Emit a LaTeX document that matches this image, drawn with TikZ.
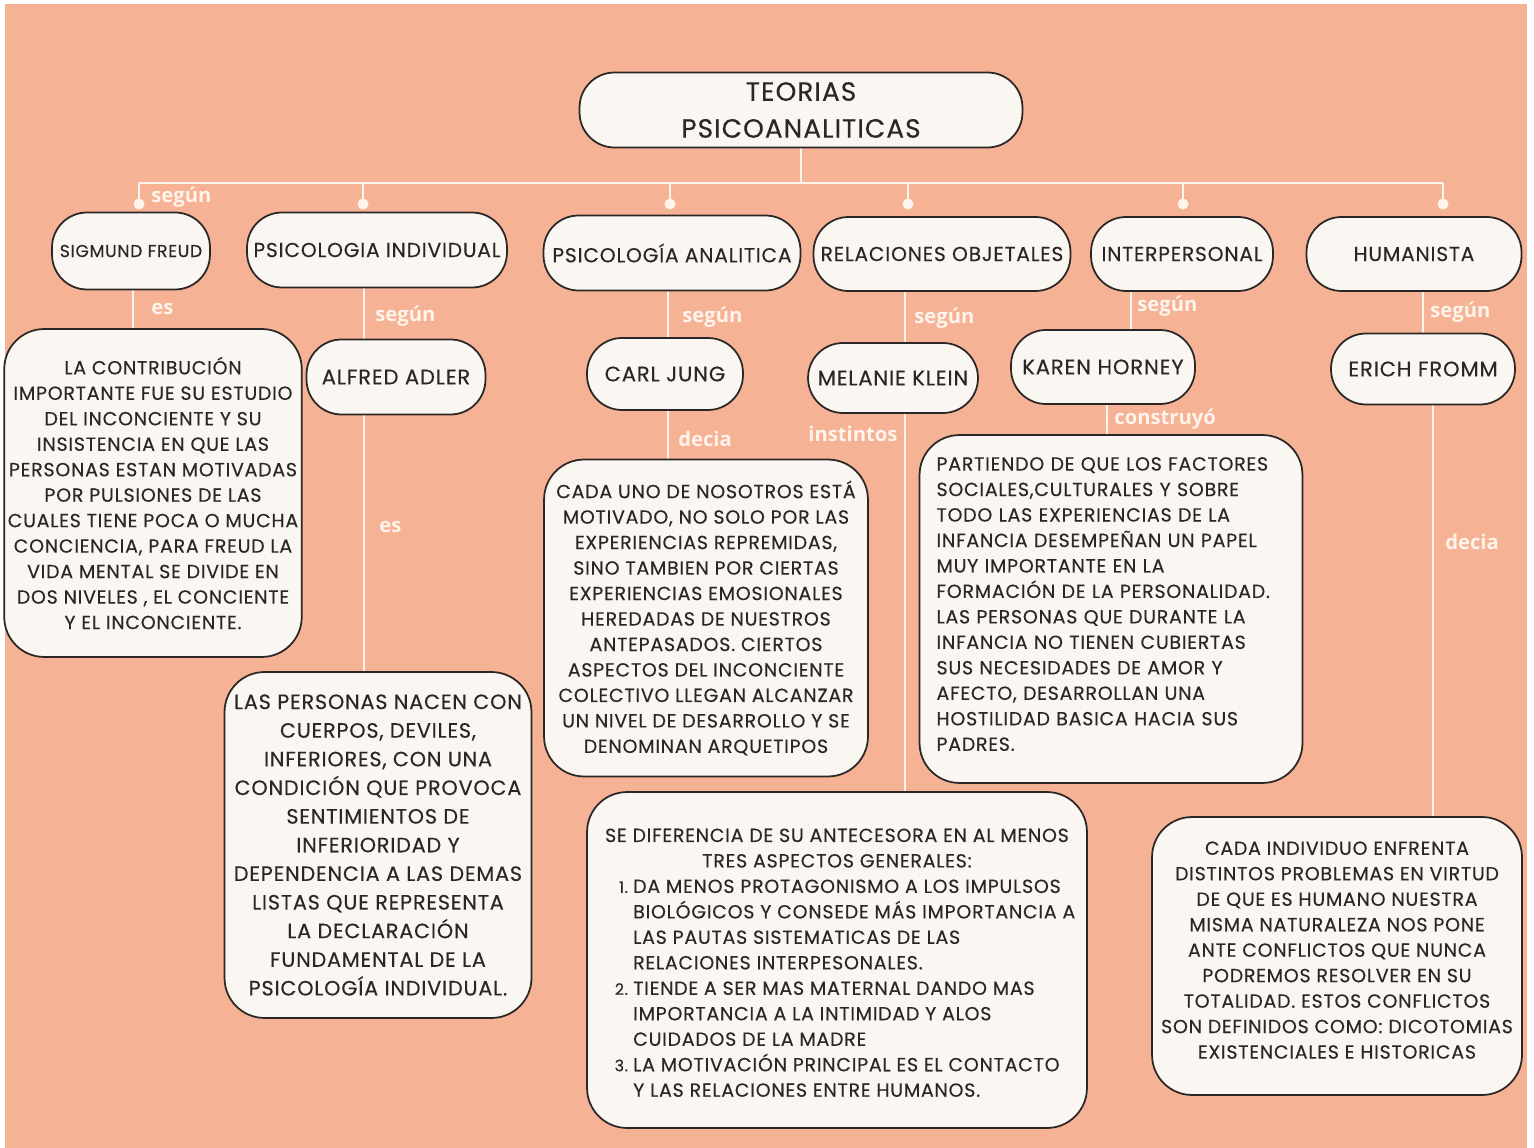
\documentclass[tikz,border=0pt]{standalone}
\usepackage{fontspec}
\setmainfont{Poppins}[LetterSpace=4, FakeBold=0.3]
\newfontfamily\lblfont{Open Sans}
\usetikzlibrary{backgrounds}
\definecolor{peach}{HTML}{F6B294}
\definecolor{boxfill}{HTML}{FAF6F1}
\definecolor{ink}{HTML}{2A2726}
\definecolor{linkcol}{HTML}{FFF4EC}

\begin{document}
\begin{tikzpicture}[x=0.02cm, y=-0.02cm,
    pill/.style={draw=ink, fill=boxfill, line width=1pt, rounded corners=0.7cm, text=ink, align=center, inner sep=2pt, font=\fontsize{12}{14}\selectfont},
    note/.style={draw=ink, fill=boxfill, line width=1pt, rounded corners=0.8cm, text=ink, align=center, inner sep=2pt, font=\fontsize{10.8}{14.5}\selectfont},
    link/.style={draw=linkcol, line width=1.6pt},
    lbl/.style={text=linkcol, anchor=west, inner sep=0pt, font=\lblfont\bfseries\fontsize{11.5}{12}\selectfont}]
\useasboundingbox (0,0) rectangle (1534,1148);

\node[pill, minimum width=8.86cm, minimum height=1.5cm, font=\fontsize{15}{21}\selectfont] (teorias) at (801,110) {TEORIAS\\PSICOANALITICAS};

\node[pill, minimum width=3.16cm, minimum height=1.54cm, font=\fontsize{9.8}{12}\selectfont] (freud) at (131,251) {SIGMUND FREUD};
\node[pill, minimum width=5.2cm, minimum height=1.5cm, font=\fontsize{11.5}{14}\selectfont] (indiv) at (377,250) {PSICOLOGIA INDIVIDUAL};
\node[pill, minimum width=5.14cm, minimum height=1.5cm, font=\fontsize{11.5}{14}\selectfont] (analit) at (672,253) {PSICOLOGÍA ANALITICA};
\node[pill, minimum width=5.14cm, minimum height=1.48cm, font=\fontsize{11.5}{14}\selectfont] (objet) at (942,254) {RELACIONES OBJETALES};
\node[pill, minimum width=3.64cm, minimum height=1.48cm, font=\fontsize{11.5}{14}\selectfont] (interp) at (1182,254) {INTERPERSONAL};
\node[pill, minimum width=4.3cm, minimum height=1.48cm, font=\fontsize{11.5}{14}\selectfont] (human) at (1414,254) {HUMANISTA};

\node[pill, minimum width=3.58cm, minimum height=1.5cm] (adler) at (396,377) {ALFRED ADLER};
\node[pill, minimum width=3.12cm, minimum height=1.44cm] (jung) at (665,374) {CARL JUNG};
\node[pill, minimum width=3.4cm, minimum height=1.4cm] (klein) at (893,378) {MELANIE KLEIN};
\node[pill, minimum width=3.68cm, minimum height=1.48cm] (horney) at (1103,367) {KAREN HORNEY};
\node[pill, minimum width=3.68cm, minimum height=1.42cm] (fromm) at (1423,369) {ERICH FROMM};

\node[note, minimum width=5.86cm, minimum height=6.56cm] (freudnote) at (153,493) {LA CONTRIBUCIÓN\\IMPORTANTE FUE SU ESTUDIO\\DEL INCONCIENTE Y SU\\INSISTENCIA EN QUE LAS\\PERSONAS ESTAN MOTIVADAS\\POR PULSIONES DE LAS\\CUALES TIENE POCA O MUCHA\\CONCIENCIA, PARA FREUD LA\\VIDA MENTAL SE DIVIDE EN\\DOS NIVELES , EL CONCIENTE\\Y EL INCONCIENTE.};
\node[note, minimum width=6.14cm, minimum height=6.92cm, font=\fontsize{11.8}{16.3}\selectfont] (adlernote) at (378,845) {LAS PERSONAS NACEN CON\\CUERPOS, DEVILES,\\INFERIORES, CON UNA\\CONDICIÓN QUE PROVOCA\\SENTIMIENTOS DE\\INFERIORIDAD Y\\DEPENDENCIA A LAS DEMAS\\LISTAS QUE REPRESENTA\\LA DECLARACIÓN\\FUNDAMENTAL DE LA\\PSICOLOGÍA INDIVIDUAL.};
\node[note, minimum width=6.48cm, minimum height=6.34cm] (jungnote) at (706,618) {CADA UNO DE NOSOTROS ESTÁ\\MOTIVADO, NO SOLO POR LAS\\EXPERIENCIAS REPREMIDAS,\\SINO TAMBIEN POR CIERTAS\\EXPERIENCIAS EMOSIONALES\\HEREDADAS DE NUESTROS\\ANTEPASADOS. CIERTOS\\ASPECTOS DEL INCONCIENTE\\COLECTIVO LLEGAN ALCANZAR\\UN NIVEL DE DESARROLLO Y SE\\DENOMINAN ARQUETIPOS};
\node[note, minimum width=10cm, minimum height=6.72cm] (kleinnote) at (837,960) {\rule{0pt}{15pt}SE DIFERENCIA DE SU ANTECESORA EN AL MENOS\\TRES ASPECTOS GENERALES:\\
  \begin{tabular}[t]{@{\hspace{0.32cm}}r@{\hspace{3pt}}l@{}}
  {\small 1.} & DA MENOS PROTAGONISMO A LOS IMPULSOS\\
   & BIOLÓGICOS Y CONSEDE MÁS IMPORTANCIA A\\
   & LAS PAUTAS SISTEMATICAS DE LAS\\
   & RELACIONES INTERPESONALES.\\
  {\small 2.} & TIENDE A SER MAS MATERNAL DANDO MAS\\
   & IMPORTANCIA A LA INTIMIDAD Y ALOS\\
   & CUIDADOS DE LA MADRE\\
  {\small 3.} & LA MOTIVACIÓN PRINCIPAL ES EL CONTACTO\\
   & Y LAS RELACIONES ENTRE HUMANOS.
  \end{tabular}};
\node[note, align=left, inner sep=0.34cm, text width=6.98cm, minimum height=6.96cm] (horneynote) at (1111,609) {PARTIENDO DE QUE LOS FACTORES\\SOCIALES,CULTURALES Y SOBRE\\TODO LAS EXPERIENCIAS DE LA\\INFANCIA DESEMPEÑAN UN PAPEL\\MUY IMPORTANTE EN LA\\FORMACIÓN DE LA PERSONALIDAD.\\LAS PERSONAS QUE DURANTE LA\\INFANCIA NO TIENEN CUBIERTAS\\SUS NECESIDADES DE AMOR Y\\AFECTO, DESARROLLAN UNA\\HOSTILIDAD BASICA HACIA SUS\\PADRES.\rule[-5.7pt]{0pt}{5.7pt}};
\node[note, minimum width=7.4cm, minimum height=5.56cm] (frommnote) at (1337,956) {CADA INDIVIDUO ENFRENTA\\DISTINTOS PROBLEMAS EN VIRTUD\\DE QUE ES HUMANO NUESTRA\\MISMA NATURALEZA NOS PONE\\ANTE CONFLICTOS QUE NUNCA\\PODREMOS RESOLVER EN SU\\TOTALIDAD. ESTOS CONFLICTOS\\SON DEFINIDOS COMO: DICOTOMIAS\\EXISTENCIALES E HISTORICAS\rule[-6.8pt]{0pt}{6.8pt}};

\node[lbl] (l-freud) at (151,197) {según};
\node[lbl] (l-freudes) at (151,309) {es};
\node[lbl] (l-adler) at (375,316) {según};
\node[lbl] (l-adleres) at (379,527) {es};
\node[lbl] (l-jung) at (682,317) {según};
\node[lbl] (l-jungdecia) at (678,439) {decia};
\node[lbl] (l-klein) at (914,318) {según};
\node[lbl] (l-instintos) at (808,434) {instintos};
\node[lbl] (l-horney) at (1137,306) {según};
\node[lbl] (l-construyo) at (1114,419) {construyó};
\node[lbl] (l-fromm) at (1430,312) {según};
\node[lbl] (l-frommdecia) at (1445,542) {decia};

\begin{scope}[on background layer]
\fill[white] (0,0) rectangle (1534,1148);
\fill[peach] (5,4) rectangle (1527,1148);
\coordinate (busL) at (139,183);
\coordinate (busR) at (1443,183);
\draw[link] (busL) -- (busR);
\draw[link] (teorias.south) -- (teorias.south |- busL);
\foreach \nm/\x in {freud/139, indiv/363, analit/670, objet/908, interp/1183, human/1443}{
    \coordinate (top-\nm) at (\x,183);
    \coordinate (dot-\nm) at (\x,204);
    \draw[link] (top-\nm) -- (dot-\nm);
    \fill[linkcol] (dot-\nm) circle (0.11cm);
}
\foreach \a/\b/\x in {freud/freudnote/133, indiv/adler/364, adler/adlernote/364, analit/jung/668, jung/jungnote/668, objet/klein/905, klein/kleinnote/905, interp/horney/1131, horney/horneynote/1107, human/fromm/1423, fromm/frommnote/1433}
    \draw[link] (\a.south -| \x,0) -- (\b.north -| \x,0);
\end{scope}
\end{tikzpicture}
\end{document}
